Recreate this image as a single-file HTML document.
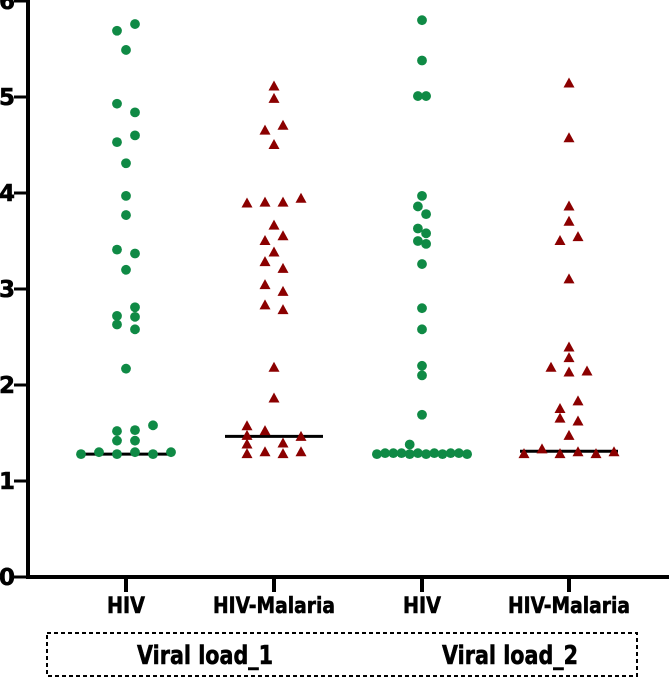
<!DOCTYPE html>
<html><head><meta charset="utf-8"><style>
html,body{margin:0;padding:0;background:#fff;}
svg{display:block;font-family:"DejaVu Sans","Liberation Sans",sans-serif;font-weight:bold;}
</style></head><body>
<svg id="chart" width="669" height="679" viewBox="0 0 669 679" xmlns="http://www.w3.org/2000/svg"></svg>
<script>
// ---- data ----
const categories = ["HIV", "HIV-Malaria", "HIV", "HIV-Malaria"];
const groupLabels = ["Viral load_1", "Viral load_2"];
const yTicks = [0, 1, 2, 3, 4, 5, 6];
const medians = [1.28, 1.465, 1.28, 1.31];
const hiv1Values = [5.69,5.76,5.49,4.93,4.84,4.60,4.53,4.31,3.97,3.77,3.41,3.37,3.20,2.81,2.72,2.71,2.63,2.58,2.17,1.58,1.52,1.53,1.42,1.42,1.28,1.30,1.28,1.30,1.28,1.30];
const hiv1Lanes  = [-1,1,0,-1,1,1,-1,0,0,0,-1,1,0,1,-1,1,-1,1,0,3,-1,1,-1,1,-5,-3,-1,1,3,5];
const hm1Values = [5.11,4.98,4.70,4.65,4.50,3.89,3.90,3.90,3.94,3.66,3.55,3.50,3.38,3.28,3.21,3.04,2.97,2.83,2.78,2.18,1.86,1.57,1.52,1.47,1.46,1.38,1.39,1.28,1.30,1.28,1.30];
const hm1Lanes  = [0,0,1,-1,0,-3,-1,1,3,0,1,-1,0,-1,1,-1,1,-1,1,0,0,-3,-1,-3,3,-3,1,-3,-1,1,3];
const hiv2Values = [5.80,5.38,5.01,5.01,3.97,3.86,3.78,3.63,3.58,3.50,3.47,3.26,2.80,2.58,2.20,2.10,1.69,1.38,1.28,1.29,1.29,1.29,1.28,1.29,1.28,1.29,1.28,1.29,1.29,1.28];
const hiv2Lanes  = [0,0,-1,1,0,-1,1,-1,1,-1,1,0,0,0,0,0,0,-3,-11,-9,-7,-5,-3,-1,1,3,5,7,9,11];
const hm2Values = [5.14,4.57,3.86,3.70,3.50,3.54,3.10,2.39,2.28,2.18,2.13,2.14,1.83,1.75,1.65,1.62,1.47,1.33,1.28,1.28,1.30,1.28,1.30];
const hm2Lanes  = [0,0,0,0,-1,1,0,0,0,-2,0,2,1,-1,-1,1,0,-3,-5,-1,1,3,5];

// ---- layout ----
const NS = "http://www.w3.org/2000/svg";
const svg = document.getElementById("chart");
const y0px = 577, pxPerUnit = 96;
function yScale(v){ return y0px - v * pxPerUnit; }
const centers = [126, 274, 422, 569];
function xScale(i){ return centers[i]; }
const laneW = [9, 9, 4.1, 9];
const medianHalf = [45, 49, 45, 49];
const green = "#0f8a45", red = "#8b0000";

function mk(tag, attrs){ const e=document.createElementNS(NS,tag); for(const k in attrs) e.setAttribute(k,attrs[k]); svg.appendChild(e); return e; }

// axes
let e;
e = mk("line",{x1:28,y1:0,x2:28,y2:579,stroke:"#000","stroke-width":4});


e = mk("line",{x1:26,y1:577,x2:669,y2:577,stroke:"#000","stroke-width":4});


yTicks.forEach(t=>{
  const y=yScale(t);
  const tk = mk("line",{x1:14,y1:y,x2:28,y2:y,stroke:"#000","stroke-width":3});
  
  
  const tx = mk("text",{x:15,y:y+8,"text-anchor":"end","font-size":23,fill:"#000",stroke:"#000","stroke-width":0.6});
  tx.textContent=String(t);
  
  
});
const catW=[38,122,38,122];
categories.forEach((c,i)=>{
  const x=xScale(i);
  const tk = mk("line",{x1:x,y1:577,x2:x,y2:592,stroke:"#000","stroke-width":4});
  
  
  const tx = mk("text",{x:x,y:613,"text-anchor":"middle","font-size":22,fill:"#000",stroke:"#000","stroke-width":0.6,textLength:catW[i],lengthAdjust:"spacingAndGlyphs"});
  tx.textContent=c;
  
  
});
// group box
e = mk("rect",{x:47,y:633,width:590,height:43,fill:"none",stroke:"#000","stroke-width":2,"stroke-dasharray":"4,3"});


[205,510].forEach((x,i)=>{
  const tx = mk("text",{x:x,y:664,"text-anchor":"middle","font-size":26,fill:"#000",stroke:"#000","stroke-width":0.6,textLength:136,lengthAdjust:"spacingAndGlyphs"});
  tx.textContent=groupLabels[i];
  
  
});

// medians
medians.forEach((m,i)=>{
  const x=xScale(i), y=yScale(m);
  const ln = mk("line",{x1:x-medianHalf[i],y1:y,x2:x+medianHalf[i],y2:y,stroke:"#000","stroke-width":3});
  
  
});

// points
const series = [[hiv1Values,hiv1Lanes,"circle"],[hm1Values,hm1Lanes,"tri"],[hiv2Values,hiv2Lanes,"circle"],[hm2Values,hm2Lanes,"tri"]];
series.forEach((s,gi)=>{
  const vals=s[0], lanes=s[1];
  vals.forEach((v,j)=>{
    const x=xScale(gi)+lanes[j]*laneW[gi], y=yScale(v);
    let p;
    if(s[2]==="circle"){
      p = mk("circle",{cx:x,cy:y,r:4.9,fill:green});
      
    } else {
      p = mk("polygon",{points:`${x},${y-6} ${x-5.5},${y+4} ${x+5.5},${y+4}`,fill:red});
      
    }
    
  });
});
</script>
</body></html>
